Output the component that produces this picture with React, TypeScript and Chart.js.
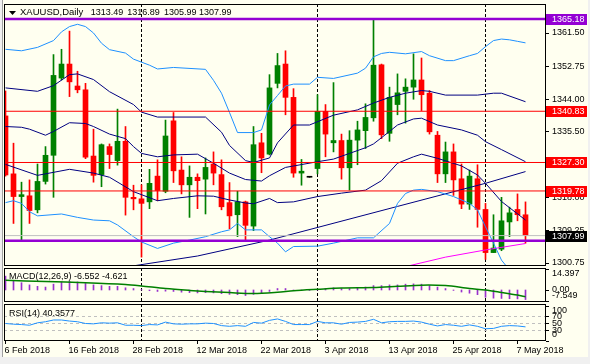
import React, { useEffect, useRef } from "react";
import { Chart, registerables } from "chart.js";

Chart.register(...registerables);

type Pt = [number, number];

// ---------------- data ----------------
const dateLabels = ["6 Feb 2018", "16 Feb 2018", "28 Feb 2018", "12 Mar 2018", "22 Mar 2018", "3 Apr 2018", "13 Apr 2018", "25 Apr 2018", "7 May 2018"];
const dateLabelBars = [0, 8, 16, 24, 32, 40, 48, 56, 64];
const separatorBars = [17, 39, 60];

const opens = [1339.6, 1324.3, 1318.3, 1318.5, 1314.8, 1322.3, 1329.2, 1349.6, 1353.3, 1347.5, 1346.5, 1329.0, 1324.1, 1331.5, 1327.8, 1332.9, 1318.1, 1317.7, 1316.9, 1323.7, 1319.7, 1338.3, 1325.3, 1321.4, 1323.4, 1322.9, 1326.9, 1324.1, 1316.7, 1313.5, 1316.9, 1310.5, 1332.5, 1329.5, 1348.2, 1353.3, 1344.5, 1324.5, 1323.4, 1325.7, 1340.8, 1332.5, 1333.1, 1325.9, 1333.2, 1335.7, 1339.1, 1353.1, 1335.0, 1342.6, 1346.1, 1347.2, 1349.1, 1345.6, 1334.5, 1324.3, 1330.1, 1323.0, 1316.3, 1323.0, 1314.9, 1303.5, 1304.4, 1311.6, 1314.9, 1313.49];
const highs = [1346.2, 1332.4, 1322.1, 1322.7, 1326.9, 1331.5, 1355.8, 1357.2, 1362.0, 1351.4, 1348.2, 1336.1, 1332.2, 1332.2, 1341.4, 1336.8, 1321.3, 1321.4, 1325.5, 1328.0, 1338.5, 1340.5, 1328.8, 1326.4, 1324.3, 1328.5, 1330.1, 1328.0, 1322.0, 1319.7, 1317.1, 1336.8, 1335.0, 1350.5, 1356.1, 1356.8, 1346.8, 1328.1, 1323.4, 1345.2, 1342.6, 1348.4, 1334.8, 1335.7, 1338.2, 1342.8, 1365.18, 1353.3, 1347.2, 1350.7, 1349.4, 1356.0, 1354.9, 1346.3, 1335.5, 1332.7, 1332.2, 1326.9, 1325.3, 1326.7, 1316.5, 1313.5, 1318.1, 1315.5, 1319.0, 1316.89];
const lows = [1323.7, 1311.2, 1306.8, 1311.2, 1314.0, 1321.6, 1318.1, 1349.1, 1344.7, 1345.7, 1328.3, 1322.1, 1320.9, 1325.7, 1326.6, 1313.4, 1314.8, 1302.3, 1315.1, 1317.2, 1319.3, 1322.0, 1319.0, 1312.8, 1315.1, 1313.7, 1321.4, 1314.8, 1309.8, 1307.7, 1306.8, 1309.3, 1324.6, 1329.3, 1347.0, 1339.9, 1323.4, 1321.3, 1323.4, 1324.3, 1328.8, 1330.1, 1322.9, 1320.0, 1326.7, 1331.0, 1338.2, 1333.6, 1332.9, 1339.9, 1337.7, 1344.0, 1341.0, 1334.8, 1322.0, 1322.0, 1318.6, 1315.1, 1314.9, 1310.2, 1301.7, 1303.5, 1304.0, 1307.7, 1311.9, 1305.99];
const closes = [1324.0, 1318.3, 1318.8, 1314.6, 1322.3, 1329.2, 1350.3, 1353.3, 1348.6, 1346.5, 1328.7, 1323.9, 1332.0, 1329.4, 1332.9, 1318.1, 1317.7, 1316.5, 1321.8, 1319.9, 1334.3, 1325.1, 1321.4, 1323.4, 1322.5, 1326.0, 1324.5, 1315.6, 1313.2, 1316.9, 1310.7, 1332.0, 1328.5, 1347.0, 1352.9, 1344.5, 1324.5, 1325.0, 1323.4, 1340.8, 1334.8, 1333.1, 1325.9, 1333.2, 1335.9, 1339.2, 1353.0, 1334.6, 1344.5, 1345.7, 1347.2, 1349.1, 1345.2, 1335.4, 1324.3, 1330.1, 1322.7, 1316.3, 1323.7, 1314.9, 1303.5, 1304.7, 1311.9, 1314.0, 1313.5, 1307.99];

const bbUpper2: Pt[] = [[0, 1357.2], [2, 1356.8], [4, 1357.7], [6, 1359.5], [7, 1361.8], [8, 1363.2], [9, 1363.8], [10, 1363.2], [11, 1361.5], [12, 1358.8], [13, 1357.1], [15, 1356.2], [16, 1354.6], [18, 1353.0], [19, 1352.0], [21, 1352.4], [25, 1351.9], [26, 1349.0], [27, 1345.6], [28, 1340.5], [29, 1335.2], [31, 1335.2], [32, 1335.9], [33, 1342.5], [34, 1345.0], [35, 1347.5], [36, 1348.0], [38, 1348.0], [39, 1349.8], [41, 1349.5], [44, 1350.9], [45, 1352.2], [46, 1355.2], [47, 1356.1], [48, 1356.4], [50, 1356.0], [52, 1356.6], [53, 1355.5], [55, 1354.2], [56, 1354.2], [58, 1355.5], [59, 1356.1], [60, 1357.9], [61, 1359.5], [62, 1359.9], [63, 1359.7], [64, 1359.3], [65, 1358.9]];
const bbUpper1: Pt[] = [[0, 1347.0], [4, 1346.1], [6, 1347.6], [8, 1350.5], [9, 1350.7], [11, 1349.2], [13, 1346.0], [16, 1342.6], [17, 1340.6], [19, 1339.3], [25, 1339.3], [27, 1335.3], [28, 1331.8], [30, 1327.8], [31, 1327.3], [33, 1328.5], [34, 1332.5], [36, 1337.2], [38, 1337.2], [41, 1339.8], [44, 1341.2], [46, 1343.0], [48, 1344.5], [50, 1345.6], [52, 1346.3], [53, 1346.1], [55, 1345.1], [59, 1345.1], [61, 1345.6], [62, 1345.6], [65, 1343.35]];
const bbMiddle: Pt[] = [[0, 1336.8], [2, 1336.6], [3, 1336.1], [5, 1334.5], [6, 1335.5], [8, 1337.8], [10, 1337.6], [11, 1336.8], [13, 1334.8], [15, 1333.6], [16, 1331.5], [17, 1329.7], [19, 1328.8], [21, 1329.3], [24, 1329.5], [26, 1327.1], [28, 1324.5], [30, 1322.8], [32, 1322.4], [33, 1323.8], [35, 1326.0], [39, 1327.5], [41, 1328.2], [43, 1329.7], [45, 1331.2], [46, 1332.2], [48, 1335.5], [49, 1337.2], [51, 1338.8], [52, 1339.0], [54, 1337.2], [57, 1335.9], [59, 1334.5], [60, 1332.8], [62, 1330.7], [65, 1327.5]];
const bbLower1: Pt[] = [[0, 1326.8], [4, 1323.9], [8, 1325.5], [11, 1324.5], [13, 1323.4], [16, 1319.6], [19, 1317.2], [21, 1317.8], [24, 1318.5], [26, 1318.4], [28, 1317.4], [30, 1316.6], [31, 1316.4], [33, 1317.8], [34, 1316.7], [36, 1316.9], [39, 1318.3], [42, 1319.2], [45, 1320.0], [47, 1322.5], [49, 1327.1], [51, 1328.8], [52, 1329.5], [54, 1328.4], [57, 1326.4], [59, 1324.0], [60, 1321.8], [62, 1317.0], [65, 1312.1]];
const bbLower2: Pt[] = [[0, 1316.7], [1, 1317.2], [2, 1316.5], [3, 1314.3], [4, 1313.2], [7, 1313.7], [9, 1312.8], [11, 1312.1], [13, 1311.9], [14, 1310.8], [16, 1307.7], [17, 1306.3], [19, 1304.6], [21, 1306.0], [23, 1306.8], [25, 1307.7], [27, 1309.0], [28, 1309.5], [29, 1311.2], [30, 1309.5], [32, 1309.5], [33, 1307.7], [34, 1306.0], [35, 1303.7], [36, 1305.1], [39, 1305.2], [41, 1306.0], [44, 1307.4], [46, 1307.4], [48, 1311.2], [49, 1316.5], [50, 1319.1], [51, 1320.0], [52, 1320.2], [54, 1319.6], [56, 1318.3], [58, 1316.5], [59, 1314.8], [60, 1310.3], [61, 1306.0], [62, 1301.5], [63, 1298.9], [64, 1296.8], [65, 1294.9]];
const ma200: Pt[] = [[14, 1299.3], [16, 1300.0], [24, 1302.6], [33, 1306.8], [49, 1315.7], [60, 1321.8], [65, 1324.9]];
const maMagenta: Pt[] = [[49, 1299.2], [50, 1299.8], [55, 1302.3], [60, 1304.2], [65, 1305.9]];

const purpleLevels = [1365.18, 1306.6];
const redLevels = [1340.83, 1327.3, 1319.78];
const bidPrice = 1307.99;
const labelledLevels: [number, string][] = [[1365.18, "#9400D3"], [1340.83, "#FF0000"], [1327.3, "#FF0000"], [1319.78, "#FF0000"], [1307.99, "#000000"]];
const priceTicks = [1361.5, 1352.75, 1344.0, 1335.5, 1326.75, 1318.0, 1309.25, 1300.75];

const macdMain = [9.5, 6.5, 5.0, 3.5, 2.5, 2.0, 4.0, 5.5, 6.0, 5.5, 4.5, 3.5, 3.0, 2.5, 2.5, 1.5, 1.0, 0.3, -0.5, -1.0, -0.8, -1.0, -1.5, -1.8, -2.0, -1.8, -2.0, -2.5, -3.0, -3.2, -3.8, -3.0, -2.5, -1.0, 1.0, 1.0, 0.0, -0.3, -0.3, 0.5, 1.0, 1.5, 1.0, 1.0, 1.5, 2.0, 3.0, 3.0, 3.5, 3.5, 4.0, 4.2, 4.0, 3.0, 2.0, 1.0, -0.3, -1.4, -2.2, -3.2, -5.0, -5.6, -5.8, -6.0, -6.1, -6.552];
const macdSignal: Pt[] = [[0, 6.6], [5, 5.8], [10, 5.0], [15, 3.8], [17, 2.8], [20, 1.0], [23, -0.3], [25, -1.0], [28, -1.8], [31, -2.4], [34, -1.5], [36, -0.5], [39, 0.5], [42, 1.4], [46, 1.7], [49, 2.5], [52, 3.3], [55, 3.0], [58, 1.0], [60, 0.0], [62, -1.7], [64, -3.5], [65, -4.621]];
const macdAxisLabels: [string, number, CanvasTextBaseline][] = [["14.397", 14.397, "top"], ["0.00", 0, "middle"], ["-7.549", -7.549, "bottom"]];

const rsiValues = [50, 48, 47, 45, 52, 55, 60, 60, 57, 55, 50, 49, 52, 51, 52, 45, 45, 44, 47, 46, 54, 49, 48, 49, 49, 51, 50, 44, 42, 44, 42, 53, 51, 59, 63, 56, 47, 47, 47, 56, 52, 52, 48, 53, 54, 56, 62, 52, 55, 56, 56, 57, 54, 48, 43, 47, 45, 42, 46, 42, 35, 36, 42, 44, 43, 40.36];
const rsiLevels = [70, 50, 30];
const rsiAxisLabels: [string, number, CanvasTextBaseline][] = [["100", 100, "top"], ["70", 70, "middle"], ["50", 50, "middle"], ["30", 30, "middle"], ["0", 0, "bottom"]];

const titleSymbol = "XAUUSD,Daily";
const titleOHLC = ["1313.49", "1316.89", "1305.99", "1307.99"];
const macdTitle = "MACD(12,26,9) -6.552 -4.621";
const rsiTitle = "RSI(14) 40.3577";

// ---------------- layout / style ----------------
const W = 590;
const H = 364;
const PLOT_L = 4;
const AXIS_W = 44;
const MAIN = { top: 4, bottom: 266 };
const MACD = { top: 268, bottom: 302 };
const RSI = { top: 304, bottom: 341 };
const X_MIN = -0.1875;
const X_MAX = 67.5625;
const FONT_FAMILY = "'Liberation Sans', Arial, sans-serif";
const FONT = "9px " + FONT_FAMILY;
const IVORY = "#FFFFF0";
const UP = "#008000";
const DOWN = "#FF0000";
const DOJI = "#000000";
const LIGHT_BLUE = "#1E90FF";
const NAVY = "#000080";

const idx = closes.map((_, i) => i);
const pts = (a: Pt[]) => a.map(([x, y]) => ({ x, y }));
const span = (v: number) => [{ x: X_MIN, y: v }, { x: X_MAX, y: v }];
const lineDs = (data: any[], color: string, order: number, width = 1, dash: number[] = [], tension = 0) => ({
  type: "line" as const,
  data,
  borderColor: color,
  borderWidth: width,
  borderDash: dash,
  pointRadius: 0,
  tension,
  fill: false,
  order,
});

const xScale = { type: "linear" as const, min: X_MIN, max: X_MAX, offset: false, display: false };

function drawFrame(chart: any) {
  const { ctx, chartArea: a } = chart;
  ctx.save();
  ctx.strokeStyle = "#000";
  ctx.lineWidth = 1;
  ctx.strokeRect(a.left + 0.5, a.top + 0.5, a.right - a.left - 1, a.bottom - a.top - 1);
  ctx.restore();
}

function drawSeparators(chart: any) {
  const { ctx, chartArea: a } = chart;
  const xs = chart.scales.x;
  ctx.save();
  ctx.strokeStyle = "#000";
  ctx.lineWidth = 1;
  ctx.setLineDash([3, 2]);
  separatorBars.forEach((b) => {
    const x = Math.floor(xs.getPixelForValue(b)) + 0.5;
    ctx.beginPath();
    ctx.moveTo(x, a.top);
    ctx.lineTo(x, a.bottom);
    ctx.stroke();
  });
  ctx.restore();
}

function drawIndicatorAxis(chart: any, labels: [string, number, CanvasTextBaseline][], title: string, titleY: number) {
  const { ctx, chartArea: a } = chart;
  const ys = chart.scales.y;
  ctx.save();
  ctx.font = FONT;
  ctx.fillStyle = "#000";
  labels.forEach(([text, v, base]) => {
    const y = ys.getPixelForValue(v);
    ctx.fillRect(a.right, Math.round(y), 3, 1);
    let ty = y;
    if (base === "top") ty = Math.max(y, a.top + 1);
    if (base === "bottom") ty = Math.min(y, a.bottom - 2);
    ctx.textBaseline = base;
    ctx.textAlign = "left";
    ctx.fillText(text, a.right + 6, ty);
  });
  ctx.textBaseline = "middle";
  ctx.fillText(title, 9, titleY);
  ctx.restore();
}

function mainConfig(): any {
  const colors = idx.map((i) => (closes[i] > opens[i] ? UP : closes[i] < opens[i] ? DOWN : DOJI));
  return {
    type: "bar",
    data: {
      datasets: [
        { type: "bar", data: idx.map((i) => ({ x: i, y: [lows[i], highs[i]] })), backgroundColor: colors, barThickness: 1, grouped: false, order: 20 },
        { type: "bar", data: idx.map((i) => ({ x: i, y: [opens[i], closes[i]] })), backgroundColor: colors, barThickness: 5, minBarLength: 1, grouped: false, order: 19 },
        lineDs(pts(bbUpper2), LIGHT_BLUE, 10),
        lineDs(pts(bbLower2), LIGHT_BLUE, 10),
        lineDs(pts(bbUpper1), NAVY, 10),
        lineDs(pts(bbMiddle), NAVY, 10),
        lineDs(pts(bbLower1), NAVY, 10),
        lineDs(pts(ma200), NAVY, 10),
        lineDs(pts(maMagenta), "#FF00FF", 10),
        lineDs(span(bidPrice), "#C0C0C0", 6),
        ...redLevels.map((v) => lineDs(span(v), "#FF0000", 5)),
        ...purpleLevels.map((v) => lineDs(span(v), "#9400D3", 4, 2.5)),
      ],
    },
    options: {
      animation: false,
      responsive: false,
      events: [],
      layout: { padding: { left: PLOT_L, top: MAIN.top, right: 0, bottom: H - MAIN.bottom } },
      plugins: { legend: { display: false }, tooltip: { enabled: false } },
      scales: {
        x: xScale,
        y: {
          type: "linear",
          position: "right",
          min: 1299.96,
          max: 1369.16,
          afterFit: (s: any) => {
            s.width = AXIS_W;
            s.paddingTop = 0;
            s.paddingBottom = 0;
          },
          afterBuildTicks: (s: any) => {
            s.ticks = priceTicks.map((v) => ({ value: v }));
          },
          ticks: { autoSkip: false, padding: 3, color: "#000", font: { family: FONT_FAMILY, size: 9 }, callback: (v: any) => Number(v).toFixed(2) },
          grid: { drawOnChartArea: false, drawTicks: true, tickLength: 3, color: "#000" },
          border: { display: false },
        },
      },
    },
    plugins: [
      {
        id: "mainDecor",
        beforeDatasetsDraw: (c: any) => drawSeparators(c),
        afterDraw: (c: any) => {
          drawFrame(c);
          const { ctx, chartArea: a } = c;
          const ys = c.scales.y;
          ctx.save();
          ctx.fillStyle = "#000";
          ctx.beginPath();
          ctx.moveTo(9, 11);
          ctx.lineTo(16, 11);
          ctx.lineTo(12.5, 15);
          ctx.closePath();
          ctx.fill();
          ctx.textBaseline = "middle";
          ctx.textAlign = "left";
          ctx.font = "9.5px " + FONT_FAMILY;
          ctx.fillText(titleSymbol, 20, 12.5);
          ctx.font = FONT;
          const ox = [90.7, 127.3, 164, 199];
          titleOHLC.forEach((t, i) => ctx.fillText(t, ox[i], 12.5));
          labelledLevels.forEach(([v, col]) => {
            const y = Math.round(ys.getPixelForValue(v));
            ctx.fillStyle = col;
            ctx.fillRect(a.right, y - 5, 41, 11);
            ctx.fillStyle = "#fff";
            ctx.fillText(v.toFixed(2), a.right + 6, y + 0.5);
          });
          ctx.restore();
        },
      },
    ],
  };
}

function macdConfig(): any {
  return {
    type: "bar",
    data: {
      datasets: [
        { type: "bar", data: idx.map((i) => ({ x: i, y: macdMain[i] })), backgroundColor: "#9932CC", barThickness: 1, order: 10 },
        lineDs(pts(macdSignal), "#008000", 5, 1.5, [], 0.3),
      ],
    },
    options: {
      animation: false,
      responsive: false,
      events: [],
      layout: { padding: { left: PLOT_L, top: MACD.top, right: AXIS_W, bottom: H - MACD.bottom } },
      plugins: { legend: { display: false }, tooltip: { enabled: false } },
      scales: { x: xScale, y: { type: "linear", min: -8.235, max: 15.08, display: false } },
    },
    plugins: [
      {
        id: "macdDecor",
        beforeDatasetsDraw: (c: any) => drawSeparators(c),
        afterDraw: (c: any) => {
          drawFrame(c);
          drawIndicatorAxis(c, macdAxisLabels, macdTitle, 277);
        },
      },
    ],
  };
}

function rsiConfig(): any {
  return {
    type: "line",
    data: {
      datasets: [
        lineDs(idx.map((i) => ({ x: i, y: rsiValues[i] })), LIGHT_BLUE, 5),
        ...rsiLevels.map((v) => lineDs(span(v), "#C0C0C0", 10, 1, [3, 3])),
      ],
    },
    options: {
      animation: false,
      responsive: false,
      events: [],
      layout: { padding: { left: PLOT_L, top: RSI.top, right: AXIS_W, bottom: H - RSI.bottom - 16 } },
      plugins: { legend: { display: false }, tooltip: { enabled: false } },
      scales: {
        x: {
          type: "linear",
          min: X_MIN,
          max: X_MAX,
          offset: false,
          position: "bottom",
          afterFit: (s: any) => {
            s.height = 16;
            s.paddingLeft = 0;
            s.paddingRight = 0;
          },
          afterBuildTicks: (s: any) => {
            s.ticks = dateLabelBars.map((v) => ({ value: v }));
          },
          ticks: {
            autoSkip: false,
            maxRotation: 0,
            minRotation: 0,
            align: "start",
            labelOffset: -1,
            padding: 1,
            color: "#000",
            font: { family: FONT_FAMILY, size: 9 },
            callback: (v: any) => dateLabels[dateLabelBars.indexOf(Number(v))],
          },
          grid: { drawOnChartArea: false, drawTicks: true, tickLength: 3, color: "#000" },
          border: { display: false },
        },
        y: { type: "linear", min: 0, max: 105.7, display: false },
      },
    },
    plugins: [
      {
        id: "rsiDecor",
        beforeDatasetsDraw: (c: any) => drawSeparators(c),
        afterDraw: (c: any) => {
          drawFrame(c);
          drawIndicatorAxis(c, rsiAxisLabels, rsiTitle, 313.5);
        },
      },
    ],
  };
}

export default function App() {
  const mainRef = useRef<HTMLCanvasElement>(null);
  const macdRef = useRef<HTMLCanvasElement>(null);
  const rsiRef = useRef<HTMLCanvasElement>(null);

  useEffect(() => {
    const charts = [
      new Chart(mainRef.current as HTMLCanvasElement, mainConfig()),
      new Chart(macdRef.current as HTMLCanvasElement, macdConfig()),
      new Chart(rsiRef.current as HTMLCanvasElement, rsiConfig()),
    ];
    return () => charts.forEach((c) => c.destroy());
  }, []);

  const cs: React.CSSProperties = { position: "absolute", left: 0, top: 0, width: W, height: H };
  return (
    <div style={{ position: "fixed", left: 0, top: 0, width: W, height: H, background: "#F0F0F0", overflow: "hidden" }}>
      <div style={{ position: "absolute", left: 2, top: 0, width: 585, height: 357, background: IVORY, borderLeft: "1px solid #A0A0A0" }} />
      <canvas ref={mainRef} width={W} height={H} style={cs} />
      <canvas ref={macdRef} width={W} height={H} style={cs} />
      <canvas ref={rsiRef} width={W} height={H} style={cs} />
    </div>
  );
}
